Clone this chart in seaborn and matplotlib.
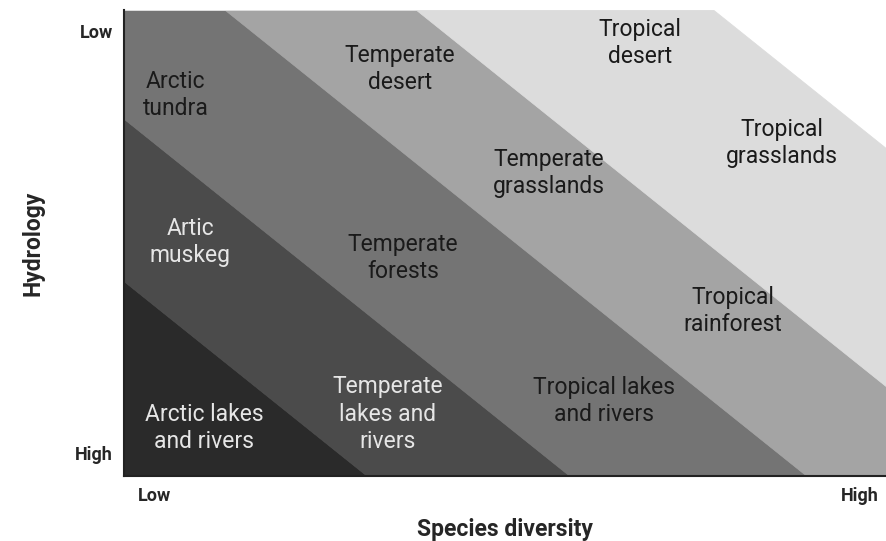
import numpy as np
import matplotlib
matplotlib.use("Agg")
import matplotlib.pyplot as plt
import seaborn as sns

# ---- data ----
# Bands run diagonally; each band ends at a boundary line that crosses the
# bottom axis at the given species-diversity value (fraction of axis width).
band_ends = [0.319, 0.585, 0.896, 1.147, 1.537]
band_colors = ["#2a2a2a", "#4b4b4b", "#747474", "#a4a4a4", "#dcdcdc"]
boundary_slope = 1.31  # hydrology units per species-diversity unit

biome_labels = ["Arctic\ntundra", "Temperate\ndesert", "Tropical\ndesert",
                "Tropical\ngrasslands", "Temperate\ngrasslands", "Artic\nmuskeg",
                "Temperate\nforests", "Tropical\nrainforest",
                "Tropical lakes\nand rivers", "Temperate\nlakes and\nrivers",
                "Arctic lakes\nand rivers"]
biome_x = [0.068, 0.362, 0.677, 0.864, 0.558, 0.087, 0.366, 0.799, 0.630, 0.346, 0.105]
biome_y = [0.818, 0.873, 0.929, 0.715, 0.650, 0.502, 0.468, 0.354, 0.161, 0.133, 0.103]
biome_light = [False, False, False, False, False, True, False, False, False, True, True]

x_tick_labels = ["Low", "High"]
y_tick_labels = ["High", "Low"]

sns.set_theme(style="white")
plt.rcParams['font.family'] = ['Liberation Sans Narrow', 'Roboto', 'DejaVu Sans']

fig = plt.figure(figsize=(8.86, 5.41), dpi=100)
ax = fig.add_axes([124 / 886, 65 / 541, 762 / 886, 466 / 541])

u = np.linspace(0, 1, 801)
lo_c = None
for c, col in zip(band_ends, band_colors):
    upper = np.clip(boundary_slope * (c - u), 0, 1)
    lower = np.zeros_like(u) if lo_c is None else np.clip(boundary_slope * (lo_c - u), 0, 1)
    ax.fill_between(u, lower, upper, color=col, edgecolor=col, linewidth=0.6, zorder=1)
    lo_c = c

for lab, x, y, light in zip(biome_labels, biome_x, biome_y, biome_light):
    ax.text(x, y, lab, ha="center", va="center", fontsize=16.5,
            color="#e6e6e6" if light else "#1a1a1a", linespacing=1.25, zorder=3)

ax.set_xlim(0, 1)
ax.set_ylim(0, 1)
ax.set_xticks([0.04, 0.965])
ax.set_xticklabels(x_tick_labels, fontsize=13, fontweight="bold")
ax.set_yticks([0.05, 0.955])
ax.set_yticklabels(y_tick_labels, fontsize=13, fontweight="bold")
ax.tick_params(axis="both", length=0, pad=8)

ax.set_xlabel("Species diversity", fontsize=16.5, fontweight="bold", labelpad=9)
ax.set_ylabel("Hydrology", fontsize=16.5, fontweight="bold", labelpad=22)

for s in ["top", "right"]:
    ax.spines[s].set_visible(False)
for s in ["left", "bottom"]:
    ax.spines[s].set_color("#222222")
    ax.spines[s].set_linewidth(1.5)
    ax.spines[s].set_zorder(4)

fig.savefig("out.png", dpi=100)
